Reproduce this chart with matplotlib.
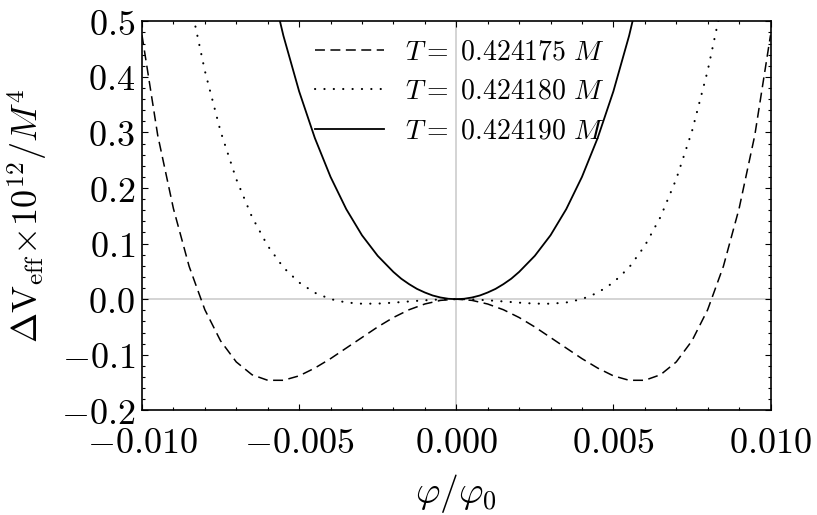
import matplotlib
matplotlib.use("Agg")
import matplotlib.pyplot as plt
from matplotlib.ticker import MultipleLocator, FixedLocator, FixedFormatter

plt.rcParams['mathtext.fontset'] = 'cm'
plt.rcParams['font.family'] = 'DejaVu Serif'

# curve values (phi/phi0 , dV*1e12/M^4)
x_dashed = [-0.0100, -0.0095, -0.0090, -0.0085, -0.0080, -0.0075, -0.0070, -0.0065, -0.0060,
            -0.0055, -0.0050, -0.0045, -0.0040, -0.0035, -0.0030, -0.0025, -0.0020, -0.0015,
            -0.0010, -0.0005, 0.0, 0.0005, 0.0010, 0.0015, 0.0020, 0.0025, 0.0030, 0.0035,
            0.0040, 0.0045, 0.0050, 0.0055, 0.0060, 0.0065, 0.0070, 0.0075, 0.0080, 0.0085,
            0.0090, 0.0095, 0.0100]
y_dashed = [0.475, 0.295, 0.163, 0.059, -0.019, -0.075, -0.113, -0.136, -0.146,
            -0.146, -0.138, -0.124, -0.107, -0.088, -0.069, -0.050, -0.033, -0.019,
            -0.0087, -0.0022, 0.0, -0.0022, -0.0087, -0.019, -0.033, -0.050, -0.069, -0.088,
            -0.107, -0.124, -0.138, -0.146, -0.146, -0.136, -0.113, -0.075, -0.019, 0.059,
            0.163, 0.295, 0.475]

x_dotted = [-0.0085, -0.0080, -0.0075, -0.0070, -0.0065, -0.0060, -0.0055, -0.0050, -0.0045,
            -0.0040, -0.0035, -0.0030, -0.0025, -0.0020, -0.0015, -0.0010, -0.0005, 0.0,
            0.0005, 0.0010, 0.0015, 0.0020, 0.0025, 0.0030, 0.0035, 0.0040, 0.0045, 0.0050,
            0.0055, 0.0060, 0.0065, 0.0070, 0.0075, 0.0080, 0.0085]
y_dotted = [0.544, 0.411, 0.302, 0.216, 0.148, 0.096, 0.057, 0.030, 0.0115,
            0.0001, -0.0060, -0.0082, -0.0080, -0.0063, -0.0041, -0.0020, -0.0005, 0.0,
            -0.0005, -0.0020, -0.0041, -0.0063, -0.0080, -0.0082, -0.0060, 0.0001, 0.0115, 0.030,
            0.057, 0.096, 0.148, 0.216, 0.302, 0.411, 0.544]

x_solid = [-0.0060, -0.0055, -0.0050, -0.0045, -0.0040, -0.0035, -0.0030, -0.0025, -0.0020,
           -0.00175, -0.0015, -0.00125, -0.0010, -0.00075, -0.0005, -0.00025, 0.0,
           0.00025, 0.0005, 0.00075, 0.0010, 0.00125, 0.0015, 0.00175,
           0.0020, 0.0025, 0.0030, 0.0035, 0.0040, 0.0045, 0.0050, 0.0055, 0.0060]
y_solid = [0.593, 0.474, 0.374, 0.290, 0.220, 0.162, 0.115, 0.078, 0.049,
           0.0368, 0.027, 0.0185, 0.012, 0.0066, 0.003, 0.0007, 0.0,
           0.0007, 0.003, 0.0066, 0.012, 0.0185, 0.027, 0.0368,
           0.049, 0.078, 0.115, 0.162, 0.220, 0.290, 0.374, 0.474, 0.593]

labels = [r'$T{=}\ 0.424175\ M$', r'$T{=}\ 0.424180\ M$', r'$T{=}\ 0.424190\ M$']

xticks = [-0.010, -0.005, 0.0, 0.005, 0.010]
xtick_labels = [r'$-0.010$', r'$-0.005$', r'$0.000$', r'$0.005$', r'$0.010$']
yticks = [-0.2, -0.1, 0.0, 0.1, 0.2, 0.3, 0.4, 0.5]
ytick_labels = [r'$-0.2$', r'$-0.1$', r'$0.0$', r'$0.1$', r'$0.2$', r'$0.3$', r'$0.4$', r'$0.5$']

fig = plt.figure(figsize=(8.17, 5.15), dpi=100)
ax = fig.add_axes([0.1738, 0.2033, 0.7693, 0.7553])

# mathematica style axes through origin
ax.axhline(0, color='0.82', lw=1.3, zorder=1)
ax.axvline(0, color='0.82', lw=1.3, zorder=1)

ax.plot(x_dashed, y_dashed, color='k', lw=1.1, ls=(0, (6.5, 3.6)), label=labels[0], zorder=3)
ax.plot(x_dotted, y_dotted, color='k', lw=1.5, ls=(0, (0.1, 4.4)), dash_capstyle='round',
        label=labels[1], zorder=3)
ax.plot(x_solid, y_solid, color='k', lw=1.3, ls='-', label=labels[2], zorder=3)

ax.set_xlim(-0.010, 0.010)
ax.set_ylim(-0.2, 0.5)

ax.xaxis.set_major_locator(FixedLocator(xticks))
ax.xaxis.set_major_formatter(FixedFormatter(xtick_labels))
ax.yaxis.set_major_locator(FixedLocator(yticks))
ax.yaxis.set_major_formatter(FixedFormatter(ytick_labels))
ax.xaxis.set_minor_locator(MultipleLocator(0.001))
ax.yaxis.set_minor_locator(MultipleLocator(0.02))

ax.tick_params(which='both', direction='in', top=True, right=True, width=0.8, color='k')
ax.tick_params(which='major', length=4.5)
ax.tick_params(which='minor', length=2.3)
ax.tick_params(axis='x', which='major', labelsize=26, pad=11)
ax.tick_params(axis='y', which='major', labelsize=26, pad=5)
for s in ax.spines.values():
    s.set_linewidth(1.2)

ax.set_xlabel(r'$\varphi/\varphi_0$', fontsize=27)
ax.set_ylabel(r'$\Delta\mathrm{V}_{\mathrm{eff}}\!\times\!10^{12}/M^4$', fontsize=26)
ax.xaxis.set_label_coords(0.5, -0.158)
ax.yaxis.set_label_coords(-0.147, 0.5)

leg = ax.legend(loc='upper left', bbox_to_anchor=(0.275, 0.956), frameon=False, fontsize=20,
                handlelength=2.5, handletextpad=0.75, borderpad=0, borderaxespad=0,
                labelspacing=0.45)

plt.savefig("out.png", dpi=100)
